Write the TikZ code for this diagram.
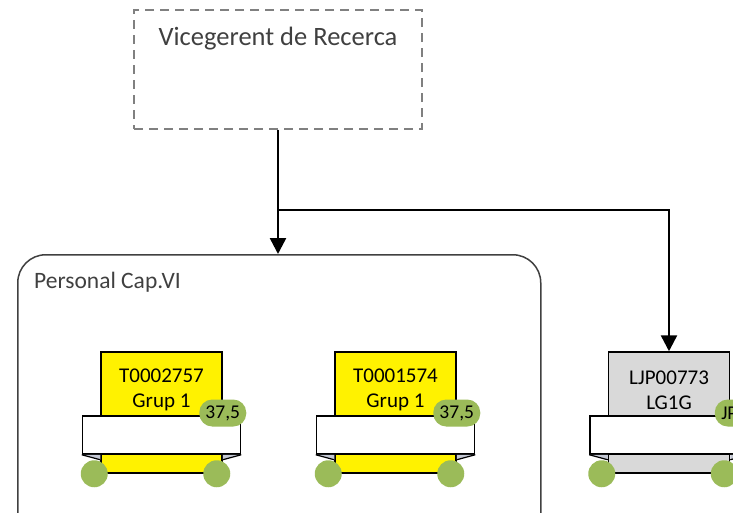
\documentclass[tikz,border=0pt]{standalone}
\usepackage{fontspec}
\setmainfont{Carlito}
\usetikzlibrary{arrows.meta}
\definecolor{cardgreen}{HTML}{9BBB59}
\definecolor{cardgray}{HTML}{D9D9D9}
\definecolor{foldgray}{HTML}{C4C8D4}
\definecolor{textgray}{HTML}{404040}
\tikzset{
	topbox/.style={draw=gray, dash pattern=on 9pt off 6pt, line width=1.3pt,
			minimum width=288pt, minimum height=119pt},
	groupbox/.style={draw=textgray, line width=1.5pt, rounded corners=28pt,
			minimum width=523pt, minimum height=320pt},
	cardbox/.style={draw=black, line width=1.5pt, minimum width=121pt,
			minimum height=121pt},
	ribbon/.style={draw=black, fill=white, line width=1.5pt,
			minimum width=158pt, minimum height=38pt},
	badge/.style={fill=cardgreen, rounded corners=13pt, minimum width=47pt,
			minimum height=27pt, inner sep=0pt, font=\fontsize{19.5}{21}\selectfont},
	badgemid/.style={},
	badgeleft/.style={text width=34pt, align=left},
	wheel/.style={circle, fill=cardgreen, minimum size=27pt, inner sep=0pt},
	arrowline/.style={->, draw=black, line width=2.5pt},
}
\begin{document}
\begin{tikzpicture}[x=1pt, y=-1pt, >={Triangle[length=16pt,width=16pt]}]
	\useasboundingbox (0,0) rectangle (733,512);
	\clip (0,0) rectangle (733,512);

	\node[topbox] (vr) at (278,69.5) {};
	\node[anchor=base, text=textgray, font=\fontsize{26.5}{32}\selectfont] (vrtitle)
	at ([yshift=-36pt]vr.north) {Vicegerent de Recerca};

	\node[groupbox, anchor=north west] (cap) at (17,254) {};
	\node[anchor=base west, inner sep=0pt, text=textgray, font=\fontsize{23.5}{28}\selectfont]
	(captitle) at (34,288) {Personal Cap.VI};

	% cards
	\foreach \name/\cx/\fillc/\code/\grp/\val/\bx/\bst in
		{ta/161.5/yellow/T0002757/Grup 1/{37,5}/0/badgemid,
		 tb/395.5/yellow/T0001574/Grup 1/{37,5}/0/badgemid,
		 lg/669/cardgray/LJP00773/LG1G/JP/8/badgeleft} {
			\node[cardbox, fill=\fillc] (\name) at (\cx,412.5) {};
			\node[align=center, font=\fontsize{21}{25}\selectfont] (\name-txt)
			at (\cx,390) {\code\\\grp};
			\node[ribbon] (\name-rb) at (\cx,435) {};
			\fill[foldgray] (\name-rb.south west) -- (\name.west |- \name-rb.south)
			-- ++(0,5) -- cycle;
			\fill[foldgray] (\name-rb.south east) -- (\name.east |- \name-rb.south)
			-- ++(0,5) -- cycle;
			\draw[line width=1.2pt] (\name-rb.south west) -- ([yshift=-5pt]\name.west |- \name-rb.south);
			\draw[line width=1.2pt] (\name-rb.south east) -- ([yshift=-5pt]\name.east |- \name-rb.south);
			\node[badge, \bst] (\name-val) at ([xshift=\bx pt]\name.east |- 0,413) {\val};
			\node[wheel] (\name-wl) at ([xshift=-6pt]\name.south west) {};
			\node[wheel] (\name-wr) at ([xshift=-6pt]\name.south east) {};
		}

	\coordinate (jn) at (278,210);
	\draw[arrowline] (vr.south) -- (vr.south |- cap.north);
	\draw[arrowline] (jn) -| (lg.north);
\end{tikzpicture}
\end{document}
